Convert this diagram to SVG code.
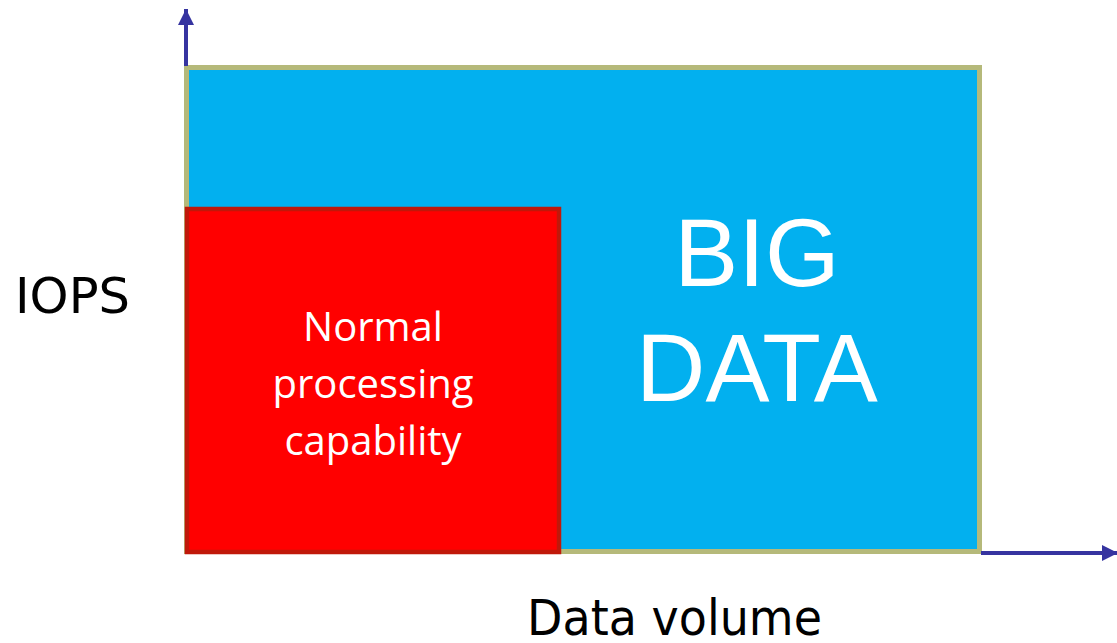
<svg xmlns="http://www.w3.org/2000/svg" width="1117" height="643" viewBox="0 0 1117 643">
<style>
.axis{stroke:#3634a0;stroke-width:4;fill:none}
.lbl{font-family:"DejaVu Sans",Verdana,sans-serif;font-size:50px;fill:#000}
.norm{font-family:"Open Sans","Noto Sans",sans-serif;font-size:40px;fill:#fff;text-anchor:middle}
.big{font-family:"Liberation Sans",Arial,sans-serif;font-size:96px;fill:#fff;text-anchor:middle}
</style>
<defs>
<marker id="ah" viewBox="0 0 10 10" refX="10" refY="5" markerWidth="4" markerHeight="4" markerUnits="strokeWidth" orient="auto">
<path d="M0,0 L10,5 L0,10 z" fill="#3634a0"/>
</marker>
</defs>
<rect width="1117" height="643" fill="#fff"/>
<g id="bigdata">
<rect x="186.5" y="67.5" width="793" height="484" fill="#02b0ef" stroke="#b5b97a" stroke-width="5"/>
<text class="big" x="757" y="286">BIG</text>
<text class="big" x="757" y="401">DATA</text>
</g>
<g id="normal">
<rect x="187" y="209" width="372" height="343" fill="#ff0000" stroke="#c0180a" stroke-width="4.5"/>
<text class="norm" x="373" y="341">Normal</text>
<text class="norm" x="373" y="398">processing</text>
<text class="norm" x="373" y="455">capability</text>
</g>
<g id="connectors">
<line class="axis" x1="186" y1="66" x2="186" y2="9" marker-end="url(#ah)"/>
<line class="axis" x1="981" y1="553" x2="1118" y2="553" marker-end="url(#ah)"/>
</g>
<g id="labels">
<text class="lbl" x="15" y="313" textLength="115" lengthAdjust="spacingAndGlyphs">IOPS</text>
<text class="lbl" x="527" y="635" textLength="295" lengthAdjust="spacingAndGlyphs">Data volume</text>
</g>
</svg>
